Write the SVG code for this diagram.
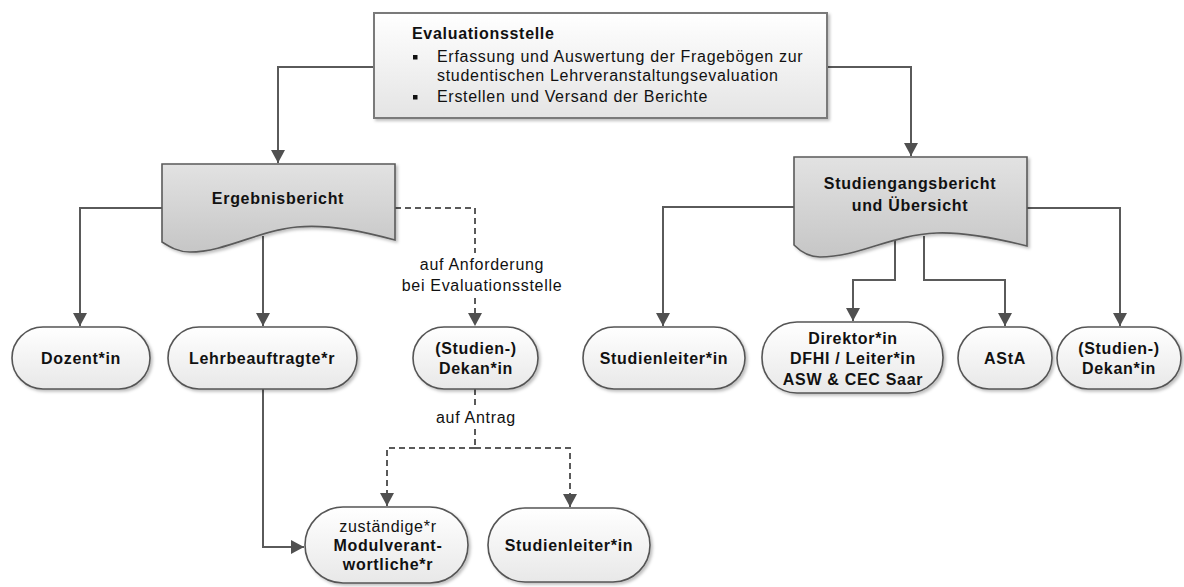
<svg xmlns="http://www.w3.org/2000/svg" width="1184" height="587" viewBox="0 0 1184 587">
<defs>
<linearGradient id="gBox" x1="0" y1="0" x2="0" y2="1"><stop offset="0" stop-color="#ffffff"/><stop offset="1" stop-color="#e4e4e4"/></linearGradient>
<linearGradient id="gDoc" x1="0" y1="0" x2="0" y2="1"><stop offset="0" stop-color="#e2e2e2"/><stop offset="1" stop-color="#c6c6c6"/></linearGradient>
<linearGradient id="gPill" x1="0" y1="0" x2="0" y2="1"><stop offset="0" stop-color="#ffffff"/><stop offset="1" stop-color="#e8e8e8"/></linearGradient>
<filter id="sh" x="-10%" y="-10%" width="130%" height="140%"><feDropShadow dx="2" dy="2" stdDeviation="1.5" flood-color="#000" flood-opacity="0.25"/></filter>
<marker id="ah" markerUnits="userSpaceOnUse" markerWidth="14" markerHeight="14" viewBox="0 0 14 14" refX="13" refY="7" orient="auto"><path d="M0,0 L13,7 L0,14 z" fill="#505050"/></marker>
</defs>
<style>
.t{font-family:"Liberation Sans",Arial,sans-serif;font-size:16px;fill:#111;letter-spacing:0.7px}
.b{font-weight:bold}
.m{text-anchor:middle}
.pill{fill:url(#gPill);stroke:#555;stroke-width:1.6;filter:url(#sh)}
.doc{fill:url(#gDoc);stroke:#5a5a5a;stroke-width:1.6;filter:url(#sh)}
.c{fill:none;stroke:#5a5a5a;stroke-width:2;marker-end:url(#ah)}
.n{fill:none;stroke:#5a5a5a;stroke-width:2}
.d{stroke-dasharray:6,4}
</style>
<rect width="1184" height="587" fill="#fff"/>
<g id="connectors">
<path class="c" d="M374,67 H278 V163"/>
<path class="c" d="M827,67 H911 V156"/>
<path class="c" d="M162,208 H80 V326"/>
<path class="c" d="M263,236 V326"/>
<path class="c d" d="M395,208 H475 V326"/>
<path class="c" d="M794,207 H663 V326"/>
<path class="c" d="M895,240 V280 H853 V321"/>
<path class="c" d="M924,236 V280 H1005 V326"/>
<path class="c" d="M1027,208 H1120 V326"/>
<path class="c" d="M263,389 V547 H304"/>
<path class="n d" d="M475,389 V448"/>
<path class="c d" d="M475,448 H387 V506"/>
<path class="c d" d="M475,448 H570 V507"/>
<rect x="400" y="253" width="166" height="42" fill="#fff"/>
<text class="t m" x="482" y="270">auf Anforderung</text>
<text class="t m" x="482" y="291">bei Evaluationsstelle</text>
<rect x="433" y="407" width="86" height="21" fill="#fff"/>
<text class="t m" x="476" y="423">auf Antrag</text>
</g>
<g id="evaluationsstelle">
<rect x="374" y="13" width="453" height="105" fill="url(#gBox)" stroke="#7a7a7a" stroke-width="2" filter="url(#sh)"/>
<text class="t b" x="412" y="39">Evaluationsstelle</text>
<rect x="413" y="55" width="4.5" height="4.5" fill="#111"/>
<text class="t" x="437" y="62">Erfassung und Auswertung der Fragebögen zur</text>
<text class="t" x="437" y="81">studentischen Lehrveranstaltungsevaluation</text>
<rect x="413" y="95" width="4.5" height="4.5" fill="#111"/>
<text class="t" x="437" y="102">Erstellen und Versand der Berichte</text>
</g>
<g id="ergebnisbericht">
<path class="doc" d="M162,164 H395 V240 C365,232 330,224 297,227 C260,230 225,252 190,252 C178,252 170,247 162,242 Z"/>
<text class="t b m" x="278" y="204">Ergebnisbericht</text>
</g>
<g id="studiengangsbericht">
<path class="doc" d="M794,157 H1027 V246 C995,238 965,232 937,233 C890,235 860,257 820,257 C808,257 800,251 794,245 Z"/>
<text class="t b m" x="910" y="189">Studiengangsbericht</text>
<text class="t b m" x="910" y="211">und Übersicht</text>
</g>
<g id="dozent">
<rect class="pill" x="12" y="327" width="138" height="62" rx="31"/>
<text class="t b m" x="81" y="364">Dozent*in</text>
</g>
<g id="lehrbeauftragte">
<rect class="pill" x="168" y="327" width="189" height="62" rx="31"/>
<text class="t b m" x="262" y="364">Lehrbeauftragte*r</text>
</g>
<g id="dekan-links">
<rect class="pill" x="413" y="327" width="125" height="62" rx="31"/>
<text class="t b m" x="476" y="354">(Studien-)</text>
<text class="t b m" x="476" y="374">Dekan*in</text>
</g>
<g id="studienleiter-rechts">
<rect class="pill" x="583" y="327" width="162" height="62" rx="31"/>
<text class="t b m" x="664" y="364">Studienleiter*in</text>
</g>
<g id="direktor">
<rect class="pill" x="762" y="322" width="181" height="71" rx="35"/>
<text class="t b m" x="853" y="344">Direktor*in</text>
<text class="t b m" x="853" y="364">DFHI / Leiter*in</text>
<text class="t b m" x="853" y="385">ASW &amp; CEC Saar</text>
</g>
<g id="asta">
<rect class="pill" x="958" y="327" width="94" height="62" rx="31"/>
<text class="t b m" x="1005" y="364">AStA</text>
</g>
<g id="dekan-rechts">
<rect class="pill" x="1057" y="327" width="124" height="62" rx="31"/>
<text class="t b m" x="1119" y="354">(Studien-)</text>
<text class="t b m" x="1119" y="374">Dekan*in</text>
</g>
<g id="modulverantwortliche">
<rect class="pill" x="305" y="507" width="163" height="76" rx="38"/>
<text class="t m" x="388" y="532">zuständige*r</text>
<text class="t b m" x="388" y="551">Modulverant-</text>
<text class="t b m" x="388" y="570">wortliche*r</text>
</g>
<g id="studienleiter-unten">
<rect class="pill" x="488" y="508" width="162" height="74" rx="37"/>
<text class="t b m" x="569" y="551">Studienleiter*in</text>
</g>
</svg>
